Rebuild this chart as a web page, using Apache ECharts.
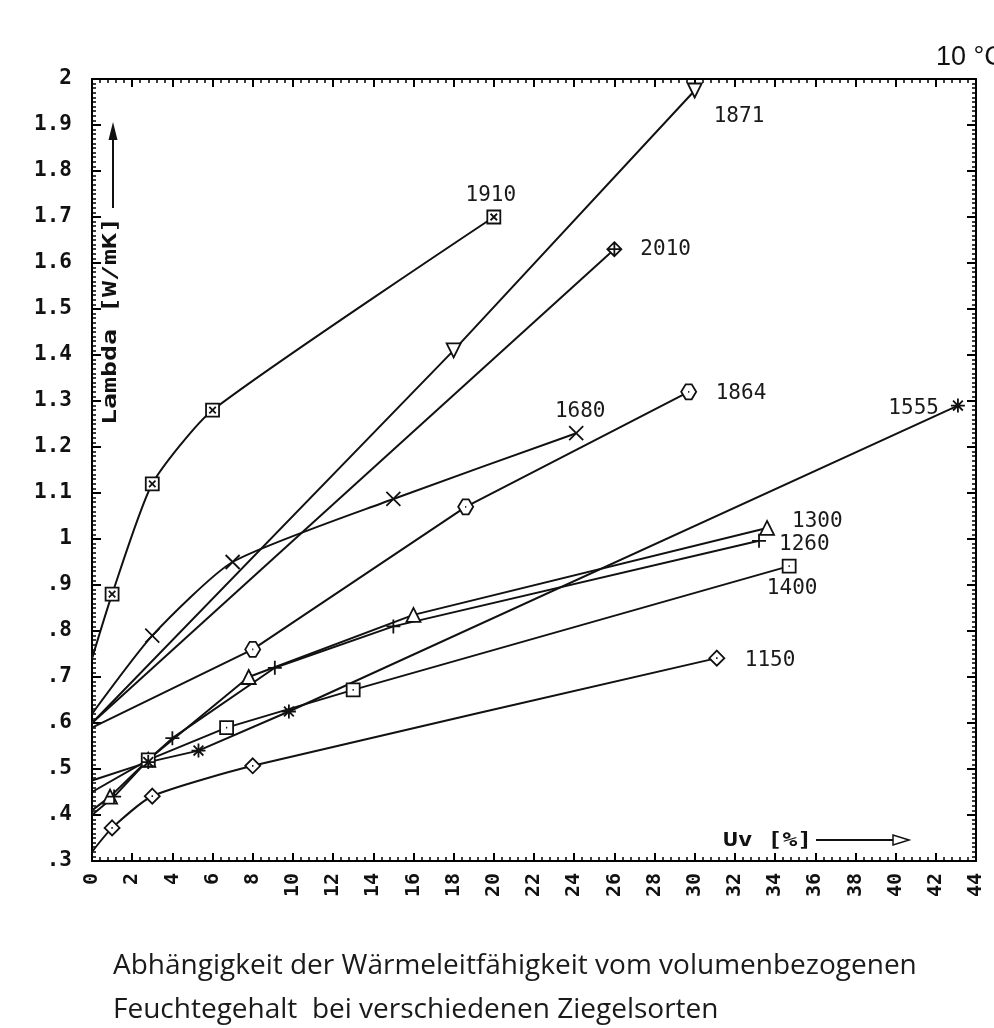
<!DOCTYPE html>
<html>
<head>
<meta charset="utf-8">
<script src="https://cdn.jsdelivr.net/npm/echarts@6/dist/echarts.min.js"></script>
<style>
html,body{margin:0;padding:0;background:#fff;}
#chart{width:994px;height:1028px;}
</style>
</head>
<body>
<div id="chart"></div>
<script>
// ---- data (moisture content Uv [%] vs. lambda [W/mK]) ----
const names = ['1910','1871','2010','1864','1680','1300','1260','1400','1555','1150'];
const u1910 = [0, 1, 3, 6, 20];
const l1910 = [0.74, 0.88, 1.12, 1.28, 1.70];
const u1871 = [0, 18, 30];
const l1871 = [0.60, 1.41, 1.975];
const u2010 = [0, 26];
const l2010 = [0.60, 1.63];
const u1864 = [0, 8, 18.6, 29.7];
const l1864 = [0.59, 0.76, 1.07, 1.32];
const u1680 = [0, 3, 7, 15, 24.1];
const l1680 = [0.62, 0.79, 0.95, 1.087, 1.23];
const u1300 = [0, 0.9, 2.8, 7.8, 16, 33.6];
const l1300 = [0.41, 0.44, 0.52, 0.70, 0.835, 1.024];
const u1260 = [0, 1.1, 2.8, 4, 9.1, 15, 33.2];
const l1260 = [0.40, 0.44, 0.52, 0.567, 0.72, 0.81, 0.996];
const u1400 = [0, 2.8, 6.7, 13, 34.7];
const l1400 = [0.45, 0.52, 0.59, 0.672, 0.941];
const u1555 = [0, 2.8, 5.3, 9.8, 43.1];
const l1555 = [0.475, 0.515, 0.54, 0.625, 1.29];
const u1150 = [0, 1, 3, 8, 31.1];
const l1150 = [0.32, 0.372, 0.441, 0.507, 0.741];

const xMin = 0, xMax = 44, xStep = 2;
const yMin = 0.3, yMax = 2.0, yStep = 0.1;

// ---- styles ----
const sym = {
  '1910': 'path://M0,0L10,0L10,10L0,10Z M2.5,2.5L7.5,7.5 M7.5,2.5L2.5,7.5',
  '1871': 'triangle',
  '2010': 'path://M5,0L10,5L5,10L0,5Z M5,0L5,10 M0,5L10,5',
  '1864': 'path://M3,0L7,0L10,5L7,10L3,10L0,5Z M4.6,5L5.4,5',
  '1680': 'path://M0,0L10,10 M10,0L0,10',
  '1300': 'triangle',
  '1260': 'path://M5,0L5,10 M0,5L10,5',
  '1400': 'path://M0,0L10,0L10,10L0,10Z M4.5,5L5.5,5',
  '1555': 'path://M5,0L5,10 M0,5L10,5 M1.5,1.5L8.5,8.5 M8.5,1.5L1.5,8.5',
  '1150': 'path://M5,0L10,5L5,10L0,5Z M4.5,5L5.5,5'
};
const symRot = {'1871': 180};
const symSize = {'1910':13,'1871':14,'2010':14,'1864':15,'1680':14,'1300':14,'1260':14,'1400':13,'1555':14,'1150':15};
const smoothBy = {'1910':0.2,'1680':0.2,'1150':0.2};
const labelCfg = {
  '1910': {align:'center', offset:[-3,-21]},
  '1871': {align:'left', offset:[19,26]},
  '2010': {align:'left', offset:[26,0]},
  '1864': {align:'left', offset:[27,2]},
  '1680': {align:'center', offset:[4,-22]},
  '1300': {align:'left', offset:[25,-6]},
  '1260': {align:'left', offset:[20,4]},
  '1400': {align:'center', offset:[3,22]},
  '1555': {align:'right', offset:[-19,3]},
  '1150': {align:'left', offset:[28,2]}
};
const seriesData = {
  '1910':[u1910,l1910], '1871':[u1871,l1871], '2010':[u2010,l2010], '1864':[u1864,l1864],
  '1680':[u1680,l1680], '1300':[u1300,l1300], '1260':[u1260,l1260], '1400':[u1400,l1400],
  '1555':[u1555,l1555], '1150':[u1150,l1150]
};

const monoFont = '"DejaVu Sans Mono", "Liberation Mono", monospace';

const series = names.map(function(n){
  const xs = seriesData[n][0], ys = seriesData[n][1];
  const data = xs.map(function(x, i){
    const item = {value:[x, ys[i]]};
    if (x === 0) item.symbol = 'none';
    if (i === xs.length - 1) {
      item.label = {
        show: true, position: 'inside', formatter: n,
        align: labelCfg[n].align, verticalAlign: 'middle',
        offset: labelCfg[n].offset,
        fontFamily: monoFont, fontSize: 21, color: '#1a1a1a'
      };
    }
    return item;
  });
  return {
    name: n, type: 'line', data: data,
    smooth: smoothBy[n] || false,
    symbol: sym[n], symbolSize: symSize[n], symbolRotate: symRot[n] || 0,
    showAllSymbol: true,
    lineStyle: {color: '#111', width: 2},
    itemStyle: {color: '#fff', borderColor: '#111', borderWidth: 1.8},
    emphasis: {disabled: true},
    z: 3
  };
});

function axisCommonX(pos, showLabel){
  return {
    type: 'value', min: xMin, max: xMax, interval: xStep, position: pos,
    axisLine: {show: true, onZero: false, lineStyle: {color: '#000', width: 2}},
    axisTick: {show: true, inside: true, length: 8, lineStyle: {color: '#000', width: 2}},
    minorTick: {show: true, splitNumber: 5, length: 4, lineStyle: {color: '#000', width: 1.5}},
    splitLine: {show: false},
    axisLabel: {show: showLabel, rotate: 90, margin: 12, fontFamily: monoFont, fontWeight: 'bold',
      fontSize: 20, color: '#111', formatter: function(v){ return String(Math.round(v)); }}
  };
}
function axisCommonY(pos, showLabel){
  return {
    type: 'value', min: yMin, max: yMax, interval: yStep, position: pos,
    axisLine: {show: true, onZero: false, lineStyle: {color: '#000', width: 2}},
    axisTick: {show: true, inside: true, length: 9, lineStyle: {color: '#000', width: 2}},
    minorTick: {show: true, splitNumber: 10, length: 4, lineStyle: {color: '#000', width: 1.5}},
    splitLine: {show: false},
    axisLabel: {show: showLabel, margin: 20, fontFamily: monoFont, fontWeight: 'bold',
      fontSize: 21, color: '#111',
      formatter: function(v){
        const r = Math.round(v * 10) / 10;
        if (Math.abs(r - Math.round(r)) < 1e-9) return String(Math.round(r));
        let s = r.toFixed(1);
        if (r < 1) s = s.substring(1);
        return s;
      }}
  };
}

const chart = echarts.init(document.getElementById('chart'), null, {renderer: 'canvas'});
chart.setOption({
  backgroundColor: '#fff',
  animation: false,
  grid: {left: 92, right: 18, top: 79, bottom: 167, containLabel: false},
  xAxis: [axisCommonX('bottom', true), axisCommonX('top', false)],
  yAxis: [axisCommonY('left', true), axisCommonY('right', false)],
  series: series,
  graphic: [
    // y axis name with arrow
    {type: 'text', x: 111, y: 321, rotation: Math.PI / 2, scaleX: 1.4,
      style: {text: 'Lambda [W/mK]', font: 'bold 19px ' + monoFont, fill: '#111',
        align: 'center', verticalAlign: 'middle'}, z: 10},
    {type: 'line', shape: {x1: 113, y1: 208, x2: 113, y2: 136}, style: {stroke: '#111', lineWidth: 2}, z: 10},
    {type: 'polygon', shape: {points: [[113, 122], [108.5, 140], [117.5, 140]]}, style: {fill: '#111'}, z: 10},
    // x axis name with arrow
    {type: 'text', x: 723, y: 841, scaleX: 1.3,
      style: {text: 'Uv [%]', font: 'bold 19px ' + monoFont, fill: '#111',
        align: 'left', verticalAlign: 'middle'}, z: 10},
    {type: 'line', shape: {x1: 816, y1: 840, x2: 895, y2: 840}, style: {stroke: '#111', lineWidth: 2}, z: 10},
    {type: 'polygon', shape: {points: [[909, 840], [893, 835], [893, 845]]}, style: {fill: '#fff', stroke: '#111', lineWidth: 1.5}, z: 10},
    // temperature note
    {type: 'text', x: 936, y: 58,
      style: {text: '10 °C', font: '27px "Liberation Sans", Arial, sans-serif', fill: '#111',
        align: 'left', verticalAlign: 'middle'}, z: 10},
    // caption
    {type: 'text', x: 113, y: 966,
      style: {text: 'Abhängigkeit der Wärmeleitfähigkeit vom volumenbezogenen', font: '28px "Open Sans", Lato, sans-serif',
        fill: '#1a1a1a', align: 'left', verticalAlign: 'middle'}, z: 10},
    {type: 'text', x: 113, y: 1010,
      style: {text: 'Feuchtegehalt  bei verschiedenen Ziegelsorten', font: '28px "Open Sans", Lato, sans-serif',
        fill: '#1a1a1a', align: 'left', verticalAlign: 'middle'}, z: 10}
  ]
});
</script>
</body>
</html>
